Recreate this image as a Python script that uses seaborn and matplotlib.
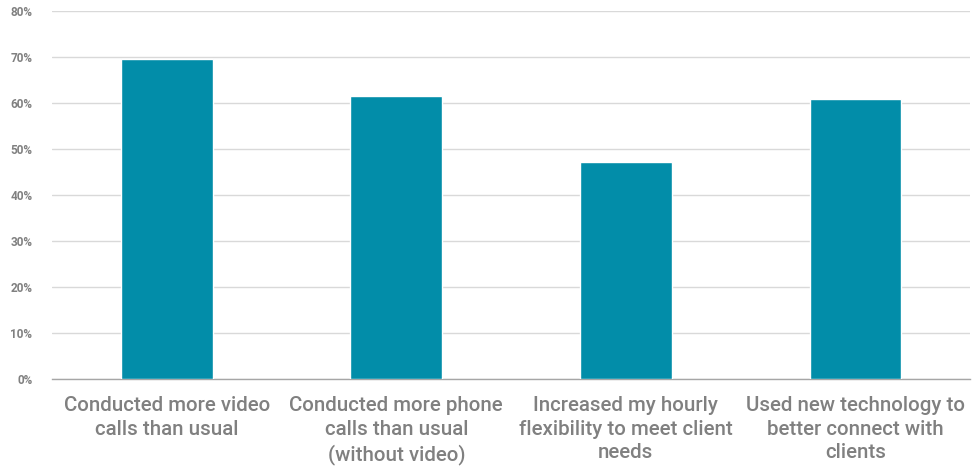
import matplotlib
matplotlib.use("Agg")
import matplotlib.pyplot as plt
import seaborn as sns
import pandas as pd
from matplotlib.ticker import FixedLocator

categories = [
    "Conducted more video\ncalls than usual",
    "Conducted more phone\ncalls than usual\n(without video)",
    "Increased my hourly\nflexibility to meet client\nneeds",
    "Used new technology to\nbetter connect with\nclients",
]
values = [69.6, 61.6, 47.2, 60.9]
y_ticks = [0, 10, 20, 30, 40, 50, 60, 70, 80]
y_tick_labels = [f"{t}%" for t in y_ticks]

sns.set_theme(style="white")
plt.rcParams["font.family"] = ["Roboto", "DejaVu Sans"]

df = pd.DataFrame({"cat": categories, "val": values})

fig = plt.figure(figsize=(9.8, 4.67), dpi=100)
ax = fig.add_axes([0.053, 0.188, 0.937, 0.788])
sns.barplot(data=df, x="cat", y="val", color="#028DA9", width=0.4, saturation=1, ax=ax, zorder=3)

grey = "#808080"
ax.set_ylim(0, 80)
ax.set_xlim(-0.5, 3.5)
ax.set_yticks(y_ticks)
ax.set_yticklabels(y_tick_labels, fontsize=8.5, fontweight="bold", color=grey)
ax.yaxis.grid(True, color="#D9D9D9", linewidth=1, zorder=0)
ax.set_axisbelow(True)
ax.set_xlabel("")
ax.set_ylabel("")
for s in ["left", "right", "top"]:
    ax.spines[s].set_visible(False)
ax.spines["bottom"].set_color("#A6A6A6")
ax.spines["bottom"].set_linewidth(1)
ax.tick_params(axis="y", length=0, pad=14)
ax.tick_params(axis="x", which="major", length=0, pad=12)
ax.xaxis.set_minor_locator(FixedLocator([-0.5, 0.5, 1.5, 2.5, 3.5]))
ax.tick_params(axis="x", which="minor", length=6, color="#A6A6A6", width=1, direction="out")
for lbl in ax.get_xticklabels():
    lbl.set_fontsize(14.8)
    lbl.set_fontweight("medium")
    lbl.set_color(grey)
    lbl.set_linespacing(1.32)
    lbl.set_verticalalignment("top")

fig.savefig("out.png", dpi=100)
